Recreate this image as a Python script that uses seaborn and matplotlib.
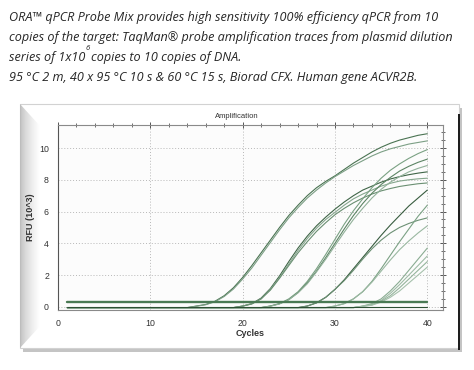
"""qPCR amplification traces - ORA probe mix dilution series"""
import numpy as np
import pandas as pd
import matplotlib
matplotlib.use('Agg')
from matplotlib import pyplot as plt
from matplotlib.patches import Rectangle, Polygon
from matplotlib.ticker import MultipleLocator
import seaborn as sns

# ---------------
# Data (RFU x 10^3 per cycle)
# ---------------
cycles = list(range(1, 41))

# 1x10^6 copies
trace_a1 = [-0.05] * 14 + [0.05, 0.15, 0.35, 0.7, 1.2, 1.85, 2.6, 3.4, 4.2, 5.0, 5.75, 6.4, 7.0,
                           7.5, 7.9, 8.25, 8.65, 9.05, 9.4, 9.75, 10.05, 10.3, 10.5, 10.65, 10.8, 10.9]
trace_a2 = [-0.05] * 14 + [0.04, 0.13, 0.32, 0.65, 1.12, 1.75, 2.45, 3.25, 4.05, 4.85, 5.6, 6.25, 6.85,
                           7.35, 7.8, 8.2, 8.55, 8.9, 9.2, 9.5, 9.75, 9.95, 10.1, 10.25, 10.35, 10.45]
# 1x10^5 copies
trace_b1 = [-0.05] * 19 + [0.05, 0.2, 0.55, 1.15, 1.95, 2.85, 3.7, 4.45, 5.1, 5.65, 6.15, 6.6, 7.0,
                           7.35, 7.6, 7.85, 8.05, 8.2, 8.32, 8.42, 8.5]
trace_b2 = [-0.05] * 19 + [0.05, 0.2, 0.5, 1.1, 1.85, 2.7, 3.55, 4.3, 4.95, 5.5, 5.95, 6.4, 6.8,
                           7.1, 7.35, 7.6, 7.78, 7.92, 8.0, 8.06, 8.1]
trace_b3 = [-0.05] * 19 + [0.04, 0.18, 0.5, 1.05, 1.8, 2.6, 3.4, 4.1, 4.75, 5.3, 5.8, 6.2, 6.55,
                           6.85, 7.1, 7.3, 7.45, 7.58, 7.67, 7.75, 7.8]
# 1x10^4 copies
trace_c1 = [-0.05] * 22 + [0.05, 0.2, 0.5, 0.95, 1.6, 2.4, 3.3, 4.25, 5.2, 6.05, 6.8, 7.5, 8.1,
                           8.6, 9.0, 9.35, 9.65, 9.9]
trace_c2 = [-0.05] * 22 + [0.05, 0.2, 0.45, 0.9, 1.5, 2.25, 3.1, 4.0, 4.9, 5.75, 6.5, 7.15, 7.7,
                           8.15, 8.55, 8.85, 9.1, 9.3]
trace_c3 = [-0.05] * 22 + [0.04, 0.18, 0.45, 0.88, 1.45, 2.2, 3.0, 3.85, 4.7, 5.5, 6.2, 6.85, 7.4,
                           7.85, 8.2, 8.5, 8.72, 8.9]
# 1x10^3 copies
trace_d1 = [-0.05] * 26 + [0.05, 0.25, 0.6, 1.1, 1.7, 2.4, 3.1, 3.8, 4.5, 5.15, 5.75, 6.35, 6.85, 7.35]
trace_d2 = [-0.05] * 26 + [0.05, 0.25, 0.6, 1.1, 1.65, 2.3, 3.0, 3.65, 4.2, 4.65, 5.0, 5.25, 5.45, 5.6]
# 1x10^2 copies
trace_e1 = [-0.05] * 29 + [0.05, 0.2, 0.5, 0.95, 1.6, 2.4, 3.25, 4.1, 4.9, 5.7, 6.4]
trace_e2 = [-0.05] * 29 + [0.05, 0.2, 0.5, 0.95, 1.55, 2.25, 2.95, 3.6, 4.15, 4.65, 5.1]
# 10 copies
trace_f1 = [-0.05] * 32 + [0.05, 0.2, 0.5, 1.0, 1.6, 2.3, 3.0, 3.7]
trace_f2 = [-0.05] * 32 + [0.04, 0.15, 0.4, 0.85, 1.4, 2.0, 2.6, 3.2]
trace_f3 = [-0.05] * 32 + [0.03, 0.12, 0.35, 0.7, 1.2, 1.75, 2.3, 2.85]
trace_f4 = [-0.05] * 32 + [0.03, 0.1, 0.3, 0.6, 1.0, 1.5, 2.0, 2.5]
# no template controls
ntc_high = [0.33] * 40
ntc_low = [0.0] * 40

traces = {
    'A1': trace_a1, 'A2': trace_a2,
    'B1': trace_b1, 'B2': trace_b2, 'B3': trace_b3,
    'C1': trace_c1, 'C2': trace_c2, 'C3': trace_c3,
    'D1': trace_d1, 'D2': trace_d2,
    'E1': trace_e1, 'E2': trace_e2,
    'F1': trace_f1, 'F2': trace_f2, 'F3': trace_f3, 'F4': trace_f4,
    'NTC2': ntc_low,
}
trace_colors = ['#4a7352', '#7c9f85', '#3f6547', '#86a78e', '#6a8f72',
                '#7aa183', '#5c8464', '#92b19a', '#385c3f', '#6c9074',
                '#7ba184', '#9ab8a1', '#8aac92', '#9fbca6', '#95b49c', '#a6c1ac',
                '#2c4f33']

title_lines = [
    'ORA™ qPCR Probe Mix provides high sensitivity 100% efficiency qPCR from 10',
    'copies of the target: TaqMan® probe amplification traces from plasmid dilution',
    '95 °C 2 m, 40 x 95 °C 10 s & 60 °C 15 s, Biorad CFX. Human gene ACVR2B.',
]

W, H = 474, 370


def fx(px):
    return px / W


def fy(py):
    return 1 - py / H


df = pd.DataFrame([
    {'cycle': c, 'rfu': v, 'well': name}
    for name, vals in traces.items() for c, v in zip(cycles, vals)
])
df_ntc = pd.DataFrame({'cycle': cycles, 'rfu': ntc_high})

sns.set_style('white')
plt.rcParams['font.family'] = ['Liberation Sans', 'DejaVu Sans']

fig = plt.figure(figsize=(W / 100, H / 100), dpi=100)
fig.patch.set_facecolor('white')

# ---------------
# Caption
# ---------------
cap = dict(family=['Open Sans', 'DejaVu Sans'], style='italic', size=9.1, color='#262626', va='center')
fig.text(fx(9), fy(17), title_lines[0], **cap)
fig.text(fx(9), fy(37), title_lines[1], **cap)
t3 = fig.text(fx(9), fy(58), 'series of 1x10', **cap)
fig.text(fx(9), fy(78), title_lines[2], **cap)
fig.canvas.draw()
renderer = fig.canvas.get_renderer()
bb = t3.get_window_extent(renderer)
sup = dict(cap)
sup['size'] = 5.5
t_sup = fig.text(bb.x1 / W + fx(0.5), fy(48.5), '6', **sup)
fig.canvas.draw()
bb2 = t_sup.get_window_extent(renderer)
fig.text(bb2.x1 / W + fx(1), fy(58), 'copies to 10 copies of DNA.', **cap)

# ---------------
# Panel frame with bevel + shadow
# ---------------
px0, py0, px1, py1 = 20, 104, 459, 348
fig.patches.append(Rectangle((fx(px0 + 3), fy(py1 + 4)), fx(px1 - px0), (py1 - py0) / H,
                             transform=fig.transFigure, facecolor='#c4c4c4', edgecolor='none', zorder=-10))
fig.patches.append(Rectangle((fx(px0), fy(py1)), fx(px1 - px0), (py1 - py0) / H,
                             transform=fig.transFigure, facecolor='white', edgecolor='#d2d2d2',
                             linewidth=0.8, zorder=-9))
fig.patches.append(Rectangle((fx(px1 - 1), fy(py1 + 2)), fx(2.2), (py1 - py0 - 8) / H,
                             transform=fig.transFigure, facecolor='#1e1e1e', edgecolor='none', zorder=-8))

bevel = fig.add_axes([fx(px0), fy(py1), fx(20), (py1 - py0) / H])
bevel.set_zorder(-5)
grad = np.linspace(0, 1, 64)[None, :] ** 0.6
im = bevel.imshow(grad, cmap='gray', vmin=-2.6, vmax=1, aspect='auto', extent=(0, 1, 0, 1))
clip = Polygon([(0, 0), (1, 0.09), (1, 0.91), (0, 1)], closed=True, transform=bevel.transData)
im.set_clip_path(clip)
bevel.set_xlim(0, 1)
bevel.set_ylim(0, 1)
bevel.axis('off')

# ---------------
# Amplification plot
# ---------------
ax = fig.add_axes([fx(58), fy(310), fx(443 - 58), (310 - 125) / H])
ax.set_zorder(2)
ax.set_facecolor('#fcfcfc')
sns.lineplot(data=df, x='cycle', y='rfu', hue='well', palette=trace_colors,
             legend=False, linewidth=0.8, ax=ax)
sns.lineplot(data=df_ntc, x='cycle', y='rfu', color='#4a7a54', linewidth=1.7, ax=ax)

ax.set_xlim(0, 41.7)
ax.set_ylim(-0.2, 11.45)
ax.xaxis.set_major_locator(MultipleLocator(10))
ax.xaxis.set_minor_locator(MultipleLocator(2))
ax.yaxis.set_major_locator(MultipleLocator(2))
ax.yaxis.set_minor_locator(MultipleLocator(0.5))
ax.grid(True, which='major', color='#b8b8b8', linestyle=(0, (1, 2)), linewidth=0.7)
ax.tick_params(which='both', direction='inout', top=True, right=True, color='#555555',
               labelsize=6.3, labelcolor='#333333', pad=4)
ax.tick_params(which='major', length=5, width=0.7)
ax.tick_params(which='minor', length=3, width=0.6)
for s in ax.spines.values():
    s.set_color('#8a8a8a')
    s.set_linewidth(0.8)
ax.spines['left'].set_color('#555555')

ax.set_xlabel('Cycles', fontsize=6.5, fontweight='bold', color='#333333', labelpad=1)
ax.set_ylabel('RFU (10^3)', fontsize=6.5, fontweight='bold', color='#333333', labelpad=3)
fig.text(fx(237), fy(117), 'Amplification', fontsize=5.5, color='#333333', ha='center', va='center',
         zorder=3)

fig.savefig('out.png', dpi=100)
